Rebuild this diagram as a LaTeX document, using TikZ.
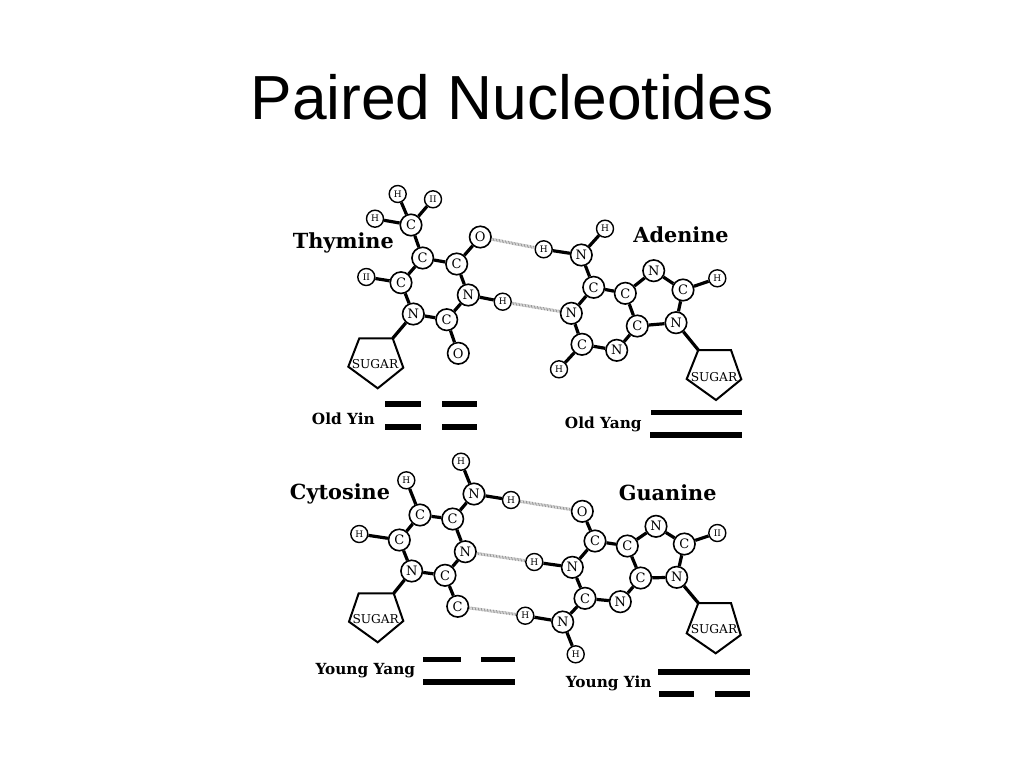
\documentclass[tikz,border=0pt]{standalone}
\usepackage{fontspec}
\setmainfont{Liberation Sans}
\newfontfamily\figfont{DejaVu Serif}
\tikzset{
  x=1pt,y=-1pt,
  atom/.style={circle,draw=black,line width=1.6pt,fill=white,inner sep=0pt,minimum size=21.5pt,font=\figfont\fontsize{13}{13}\selectfont},
  hyd/.style={circle,draw=black,line width=1.4pt,fill=white,inner sep=0pt,minimum size=17pt,font=\figfont\fontsize{9}{9}\selectfont},
  bond/.style={draw=black,line width=3.2pt},
  hbond/.style={draw=black!40,line width=3pt,dash pattern=on 0.8pt off 0.7pt},
  ring/.style={draw=black,line width=2pt,line join=miter},
  sugartext/.style={font=\figfont\fontsize{12.2}{12}\selectfont,inner sep=0pt},
  basename/.style={font=\figfont\bfseries\fontsize{20.8}{21}\selectfont,inner sep=0pt},
  hexname/.style={font=\figfont\bfseries\fontsize{15.3}{16}\selectfont,inner sep=0pt},
  bar/.style={fill=black}
}
\newcommand{\hexbar}[3]{\fill[bar] (#1,#3-2.8) rectangle (#2,#3+2.8);}
\begin{document}
\begin{tikzpicture}
\useasboundingbox (0,0) rectangle (1024,768);
\node[font=\fontsize{62.3}{64}\selectfont,inner sep=0pt] (title) at (512,97) {Paired Nucleotides};

% ---------- Thymine
\node[hyd] (th1) at (397.7,194) {H};
\node[hyd] (th2) at (433,199.3) {II};
\node[hyd] (th3) at (375,218.7) {H};
\node[atom] (tcm) at (411,225) {C};
\node[atom] (tc5) at (422.7,258) {C};
\node[atom] (tc4) at (456.7,264) {C};
\node[atom] (to4) at (480.3,237) {O};
\node[atom] (tc6) at (401,282.7) {C};
\node[hyd] (th6) at (366.3,277) {II};
\node[atom] (tn3) at (468.3,295) {N};
\node[hyd] (th) at (502.7,301.7) {H};
\node[atom] (tn1) at (413.3,314) {N};
\node[atom] (tc2) at (446.7,319.7) {C};
\node[atom] (to2) at (458.3,353.3) {O};
\coordinate (ts1) at (359.3,338.3);
\coordinate (ts2) at (392.7,338.3);
\coordinate (ts3) at (403.3,367.7);
\coordinate (ts4) at (377.7,388.3);
\coordinate (ts5) at (348.3,366.7);
\draw[ring] (ts1)--(ts2)--(ts3)--(ts4)--(ts5)--cycle;
\node[sugartext] (tsug) at (375,364) {SUGAR};
\foreach \a/\b in {th1/tcm,th2/tcm,th3/tcm,tcm/tc5,tc5/tc4,tc4/to4,tc4/tn3,tn3/th,tn3/tc2,tc2/to2,tc2/tn1,tn1/tc6,tc6/th6,tc6/tc5,tn1/ts2}
  \draw[bond] (\a)--(\b);
\node[basename] (tname) at (343.3,243.3) {Thymine};
\node[hexname] (tyin) at (343.3,418.3) {Old Yin};
\hexbar{385.3}{421.3}{403.7}\hexbar{442}{477.3}{403.7}
\hexbar{385.3}{421.3}{427}\hexbar{442}{477.3}{427}

% ---------- Adenine
\node[hyd] (ah1) at (605,228.7) {H};
\node[hyd] (ah2) at (543.7,249.3) {H};
\node[atom] (an6) at (581.3,255) {N};
\node[atom] (ac6) at (593.7,287.3) {C};
\node[atom] (ac5) at (625.3,293.3) {C};
\node[atom] (an7) at (653.7,270.7) {N};
\node[atom] (ac8) at (683,290) {C};
\node[hyd] (ah8) at (717.3,278.3) {H};
\node[atom] (an1) at (571.3,313.3) {N};
\node[atom] (ac4) at (637.3,326) {C};
\node[atom] (an9) at (676,322.7) {N};
\node[atom] (ac2) at (582,344.3) {C};
\node[atom] (an3) at (616.7,350.3) {N};
\node[hyd] (ah3) at (559,369.3) {H};
\coordinate (as1) at (698.3,350);
\coordinate (as2) at (731,350);
\coordinate (as3) at (741.3,379.3);
\coordinate (as4) at (716,400);
\coordinate (as5) at (686.7,379);
\draw[ring] (as1)--(as2)--(as3)--(as4)--(as5)--cycle;
\node[sugartext] (asug) at (714,376.7) {SUGAR};
\foreach \a/\b in {ah1/an6,ah2/an6,an6/ac6,ac6/ac5,ac6/an1,an1/ac2,ac2/ah3,ac2/an3,an3/ac4,ac4/ac5,ac5/an7,an7/ac8,ac8/ah8,ac8/an9,an9/ac4,an9/as1}
  \draw[bond] (\a)--(\b);
\node[basename] (aname) at (681,234.3) {Adenine};
\node[hexname] (ayang) at (603.3,424) {Old Yang};
\hexbar{651}{742.3}{412.3}
\hexbar{650}{742.3}{434.7}
\draw[hbond] (to4)--(ah2);
\draw[hbond] (th)--(an1);

% ---------- Cytosine
\node[hyd] (ch1) at (461,461.7) {H};
\node[hyd] (ch5) at (406.3,480.3) {H};
\node[atom] (cn4) at (474,494) {N};
\node[hyd] (ch2) at (511,500) {H};
\node[atom] (cc5) at (420,515) {C};
\node[atom] (cc4) at (452.7,519) {C};
\node[hyd] (ch6) at (359.3,534) {H};
\node[atom] (cc6) at (399.3,540) {C};
\node[atom] (cn3) at (465.3,551.7) {N};
\node[atom] (cn1) at (411.7,571) {N};
\node[atom] (cc2) at (445,575.3) {C};
\node[atom] (co2) at (457.7,606.3) {C};
\coordinate (cs1) at (358.7,593.3);
\coordinate (cs2) at (393.7,593.3);
\coordinate (cs3) at (403.3,621);
\coordinate (cs4) at (377.7,642.3);
\coordinate (cs5) at (349,621.7);
\draw[ring] (cs1)--(cs2)--(cs3)--(cs4)--(cs5)--cycle;
\node[sugartext] (csug) at (375.7,619.3) {SUGAR};
\foreach \a/\b in {ch1/cn4,cn4/ch2,cn4/cc4,cc4/cc5,cc5/ch5,cc5/cc6,cc6/ch6,cc6/cn1,cn1/cc2,cc2/cn3,cn3/cc4,cc2/co2,cn1/cs2}
  \draw[bond] (\a)--(\b);
\node[basename] (cname) at (340,494) {Cytosine};
\node[hexname] (cyang) at (365.3,670.7) {Young Yang};
\hexbar{423.3}{460.7}{659.3}\hexbar{481.3}{515.3}{659.3}
\hexbar{423.3}{515.3}{681.7}

% ---------- Guanine
\node[atom] (go6) at (582.3,511.3) {O};
\node[atom] (gc6) at (595,541) {C};
\node[atom] (gc5) at (627.3,546) {C};
\node[atom] (gn7) at (656,526.3) {N};
\node[atom] (gc8) at (684.3,544) {C};
\node[hyd] (gh8) at (717.3,533) {II};
\node[atom] (gn1) at (572.3,567.3) {N};
\node[hyd] (gh1) at (534.3,562) {H};
\node[atom] (gc4) at (640.7,578) {C};
\node[atom] (gn9) at (676.7,577.3) {N};
\node[atom] (gc2) at (585,598.3) {C};
\node[atom] (gn3) at (620.3,601.7) {N};
\node[hyd] (gh2) at (525.3,615.7) {H};
\node[atom] (gn2) at (562.7,622) {N};
\node[hyd] (gh3) at (575.7,654.3) {H};
\coordinate (gs1) at (698.3,603);
\coordinate (gs2) at (731,603);
\coordinate (gs3) at (740.7,635);
\coordinate (gs4) at (715.7,653.3);
\coordinate (gs5) at (686.7,633.3);
\draw[ring] (gs1)--(gs2)--(gs3)--(gs4)--(gs5)--cycle;
\node[sugartext] (gsug) at (714,629) {SUGAR};
\foreach \a/\b in {go6/gc6,gc6/gc5,gc5/gn7,gn7/gc8,gc8/gh8,gc8/gn9,gn9/gc4,gc4/gc5,gc4/gn3,gn3/gc2,gc2/gn1,gn1/gc6,gn1/gh1,gc2/gn2,gn2/gh2,gn2/gh3,gn9/gs1}
  \draw[bond] (\a)--(\b);
\node[basename] (gname) at (667.7,492.7) {Guanine};
\node[hexname] (gyin) at (608.7,683.3) {Young Yin};
\hexbar{658}{750}{671.7}
\hexbar{659}{694.3}{694}\hexbar{715}{750}{694}
\draw[hbond] (ch2)--(go6);
\draw[hbond] (cn3)--(gh1);
\draw[hbond] (co2)--(gh2);
\end{tikzpicture}
\end{document}
